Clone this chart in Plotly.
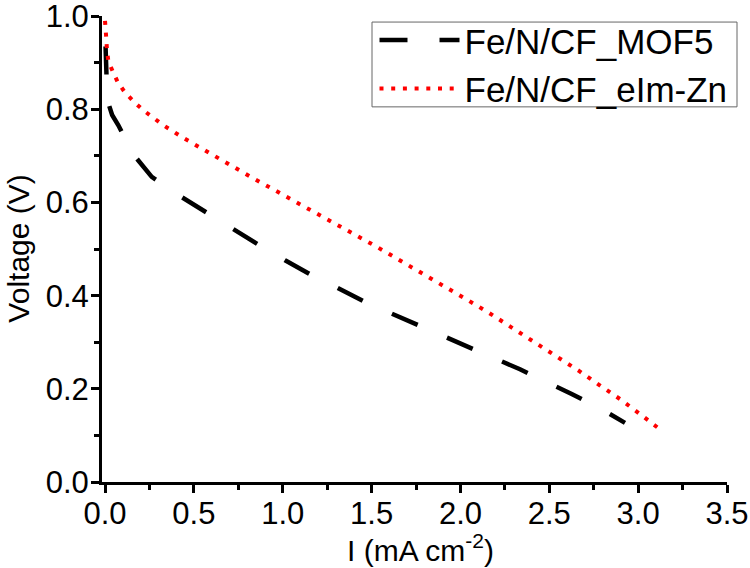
import plotly.graph_objects as go

# Fe/N/CF_MOF5 (black dashed)
mof5_i = [0.003, 0.007, 0.013, 0.040, 0.075, 0.156, 0.263, 0.430, 0.563, 0.720,
          0.857, 1.013, 1.154, 1.307, 1.450, 1.604, 1.745, 1.900, 2.040, 2.195,
          2.335, 2.485, 2.626, 2.786, 2.926]
mof5_v = [0.935, 0.880, 0.820, 0.788, 0.766, 0.705, 0.655, 0.612, 0.580, 0.542,
          0.511, 0.476, 0.446, 0.417, 0.389, 0.363, 0.339, 0.314, 0.290, 0.265,
          0.242, 0.215, 0.189, 0.158, 0.127]

# Fe/N/CF_eIm-Zn (red dotted)
eim_i = [0.000, 0.006, 0.008, 0.011, 0.019, 0.043, 0.071, 0.109, 0.163, 0.219,
         0.276, 0.332, 0.444, 0.559, 0.675, 0.788, 0.844, 1.075, 1.187, 1.416,
         1.529, 1.757, 1.870, 2.039, 2.157, 2.326, 2.442, 2.555, 2.669, 2.782,
         2.898, 3.010, 3.123]
eim_v = [0.990, 0.969, 0.947, 0.926, 0.903, 0.882, 0.859, 0.838, 0.816, 0.797,
         0.780, 0.765, 0.738, 0.712, 0.686, 0.662, 0.650, 0.601, 0.578, 0.529,
         0.505, 0.455, 0.429, 0.391, 0.364, 0.323, 0.295, 0.268, 0.238, 0.208,
         0.178, 0.146, 0.113]

x_title = "I (mA cm<sup>-2</sup>)"
y_title = "Voltage (V)"

FONT = "Liberation Sans, Arial, sans-serif"

fig = go.Figure()
fig.add_trace(go.Scatter(x=mof5_i, y=mof5_v, mode="lines", name="Fe/N/CF_MOF5",
                         line=dict(color="black", width=4.5, dash="28px,32px")))
fig.add_trace(go.Scatter(x=eim_i, y=eim_v, mode="lines", name="Fe/N/CF_eIm-Zn",
                         line=dict(color="#ff0000", width=4, dash="4px,7.7px")))

axis_common = dict(showline=True, linecolor="black", linewidth=3, ticks="outside",
                   ticklen=8, tickwidth=3, tickcolor="black", showgrid=False,
                   zeroline=False, tickfont=dict(family=FONT, size=31, color="black"),
                   tickformat=".1f", ticklabeloverflow="allow")

fig.update_xaxes(range=[-0.017, 3.5], dtick=0.5, tick0=0, ticklabelstandoff=-6,
                 minor=dict(dtick=0.25, ticklen=5, tickwidth=3, ticks="outside", tickcolor="black"),
                 **axis_common)
fig.update_yaxes(range=[0, 1.0005], dtick=0.2, tick0=0, ticklabelstandoff=-4,
                 minor=dict(dtick=0.1, ticklen=5, tickwidth=3, ticks="outside", tickcolor="black"),
                 **axis_common)

fig.add_annotation(text=x_title, xref="paper", yref="paper", x=0.51, y=-0.142,
                   xanchor="center", yanchor="middle", showarrow=False,
                   font=dict(family=FONT, size=30, color="black"))
fig.add_annotation(text=y_title, xref="paper", yref="paper", x=-0.135, y=0.5,
                   xanchor="center", yanchor="middle", textangle=-90, showarrow=False,
                   font=dict(family=FONT, size=30, color="black"))

# legend frame
fig.add_shape(type="rect", xref="paper", yref="paper", x0=0.432, x1=1.016, y0=0.805, y1=0.987,
              line=dict(color="#666666", width=1), fillcolor="white", layer="below")

fig.update_layout(
    width=750, height=568,
    margin=dict(l=102, r=23, t=16, b=86, autoexpand=False),
    plot_bgcolor="white", paper_bgcolor="white",
    legend=dict(x=0.436, y=1.011, xanchor="left", yanchor="top",
                font=dict(family=FONT, size=35, color="black"),
                borderwidth=0, bgcolor="rgba(0,0,0,0)",
                itemwidth=80, tracegroupgap=0),
)

fig.write_html("out.html", config={"displayModeBar": False},
               post_script="document.body.style.margin='0px';")
